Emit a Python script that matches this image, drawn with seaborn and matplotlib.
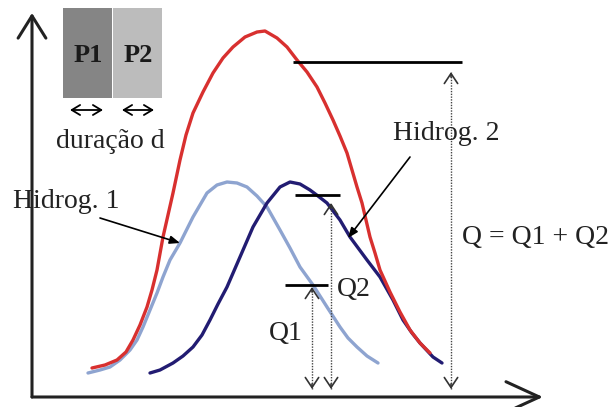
import numpy as np
import pandas as pd
import matplotlib
matplotlib.use("Agg")
import matplotlib.pyplot as plt
import seaborn as sns

# hydrograph points (time, discharge), arbitrary units
t_h1 = [56, 68, 78, 88, 98, 105, 111, 118, 125, 131, 138, 148, 161, 175, 185, 195,
        205, 215, 225, 235, 248, 258, 268, 281, 288, 295, 308, 316, 325, 335, 346]
q_h1 = [24, 27, 30, 37, 47, 57, 70, 87, 104, 120, 137, 154, 180, 204, 212, 215,
        214, 210, 201, 190, 167, 149, 130, 112, 101, 90, 70, 59, 50, 41, 34]

t_h2 = [118, 128, 141, 151, 161, 170, 178, 186, 195, 208, 221, 235, 248, 258, 268,
        278, 286, 295, 308, 318, 335, 348, 361, 371, 380, 388, 401, 410]
q_h2 = [24, 27, 34, 41, 50, 62, 77, 93, 110, 140, 170, 194, 210, 215, 213,
        207, 201, 194, 177, 160, 137, 120, 97, 77, 64, 54, 40, 34]

t_sum = [60, 73, 85, 94, 101, 108, 115, 120, 125, 131, 136, 141, 148, 154, 161, 171,
         181, 191, 201, 213, 225, 233, 245, 255, 265, 275, 285, 293, 301, 308, 315,
         320, 325, 330, 334, 338, 343, 348, 358, 368, 378, 388, 398]
q_sum = [29, 32, 37, 45, 57, 72, 90, 107, 127, 160, 182, 204, 237, 262, 284, 305,
         324, 339, 350, 360, 365, 366, 359, 350, 337, 325, 310, 294, 277, 261, 244,
         227, 210, 194, 177, 160, 144, 127, 105, 85, 67, 54, 44]

pulse_labels = ["P1", "P2"]
pulse_colors = ["#858585", "#bcbcbc"]

# reference levels shown on the chart
q_peak_sum = 335
q_peak_h2 = 202
q_h1_at_t = 112
t_q1 = 280
t_q2 = 299
t_q = 419

sns.set_theme(style="white")
plt.rcParams["font.family"] = ["Liberation Serif", "DejaVu Serif"]

fig = plt.figure(figsize=(6.12, 4.07), dpi=100)
ax = fig.add_axes([0, 0, 1, 1])
ax.set_xlim(-32, 580)
ax.set_ylim(-10, 397)
ax.axis("off")

FS = 20
TXT = "#222222"

# rain pulses
ax.bar([31, 81], [90, 90], width=49, bottom=299, align="edge",
       color=pulse_colors, edgecolor="none")
for x, lab in zip([56, 106], pulse_labels):
    ax.text(x, 342, lab, ha="center", va="center", fontsize=19,
            fontweight="bold", color="#1a1a1a")
for x0, x1 in [(38, 71), (90, 122)]:
    ax.annotate("", xy=(x1, 287), xytext=(x0, 287),
                arrowprops=dict(arrowstyle="<->,head_length=0.5,head_width=0.3",
                                lw=1.3, color="black", shrinkA=0, shrinkB=0))
ax.text(78, 256, "duração d", ha="center", va="center", fontsize=FS, color=TXT)

# hydrographs
df = pd.concat([
    pd.DataFrame({"t": t_h1, "q": q_h1, "s": "h1"}),
    pd.DataFrame({"t": t_h2, "q": q_h2, "s": "h2"}),
    pd.DataFrame({"t": t_sum, "q": q_sum, "s": "sum"}),
])
sns.lineplot(data=df, x="t", y="q", hue="s", sort=False, estimator=None,
             palette={"h1": "#8ea4d0", "h2": "#221c72", "sum": "#d8302f"},
             lw=2.4, legend=False, ax=ax)
for ln in ax.lines:
    ln.set_solid_capstyle("round")
    ln.set_solid_joinstyle("round")

# axes arrows
ax.annotate("", xy=(511, 0), xytext=(0, 0),
            arrowprops=dict(arrowstyle="->,head_length=1.2,head_width=0.55",
                            lw=2.2, color="#222222", shrinkA=0, shrinkB=0,
                            mutation_scale=20))
ax.annotate("", xy=(0, 384), xytext=(0, 0),
            arrowprops=dict(arrowstyle="->,head_length=0.8,head_width=0.5",
                            lw=2.2, color="#222222", shrinkA=0, shrinkB=0,
                            mutation_scale=20))

# peak markers
ax.hlines(q_peak_sum, 261, 430, color="black", lw=2)
ax.hlines(q_peak_h2, 263, 308, color="black", lw=2)
ax.hlines(q_h1_at_t, 253, 296, color="black", lw=2)

# dotted double arrows
for x, top in [(t_q1, 110), (t_q2, 194), (t_q, 325)]:
    ax.vlines(x, 8, top, color="#444444", lw=1, linestyles=(0, (1, 1)))
    for y0, y1 in [(top - 5, top), (13, 8)]:
        ax.annotate("", xy=(x, y1), xytext=(x, y0),
                    arrowprops=dict(arrowstyle="->,head_length=0.6,head_width=0.4",
                                    lw=1.2, color="#333333", shrinkA=0, shrinkB=0))

ax.text(254, 64, "Q1", ha="center", va="center", fontsize=FS, color=TXT)
ax.text(305, 107, "Q2", ha="left", va="center", fontsize=FS, color=TXT)
ax.text(430, 159, "Q = Q1 + Q2", ha="left", va="center", fontsize=FS, color=TXT)

# curve labels
ax.text(-19, 195, "Hidrog. 1", ha="left", va="center", fontsize=FS, color=TXT)
ax.annotate("", xy=(148, 154), xytext=(68, 179),
            arrowprops=dict(arrowstyle="-|>,head_length=0.5,head_width=0.2",
                            lw=1.2, color="black", shrinkA=0, shrinkB=0))
ax.text(361, 264, "Hidrog. 2", ha="left", va="center", fontsize=FS, color=TXT)
ax.annotate("", xy=(316, 159), xytext=(378, 240),
            arrowprops=dict(arrowstyle="-|>,head_length=0.5,head_width=0.2",
                            lw=1.2, color="black", shrinkA=0, shrinkB=0))

fig.savefig("out.png", dpi=100)
